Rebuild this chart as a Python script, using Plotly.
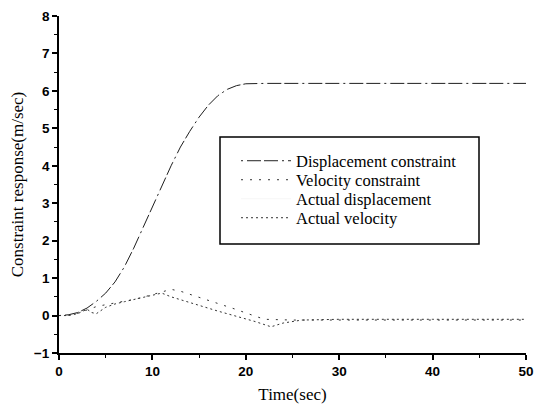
import plotly.graph_objects as go

# Displacement constraint (m)
t_disp = [0, 1, 2, 3, 4, 5, 6, 7, 8, 9, 10, 11, 12, 13, 14, 15, 16, 17, 18, 19, 20, 22, 25, 30, 35, 40, 45, 50]
disp_con = [0, 0.02, 0.08, 0.2, 0.38, 0.6, 0.9, 1.3, 1.8, 2.35, 2.9, 3.45, 4.0, 4.5, 4.92, 5.3, 5.62, 5.87, 6.04, 6.14, 6.19, 6.2, 6.2, 6.2, 6.2, 6.2, 6.2, 6.2]
disp_act = [0, 0.02, 0.08, 0.2, 0.38, 0.6, 0.9, 1.3, 1.8, 2.35, 2.9, 3.45, 4.0, 4.5, 4.92, 5.3, 5.62, 5.87, 6.04, 6.14, 6.19, 6.2, 6.2, 6.2, 6.2, 6.2, 6.2, 6.2]

# Velocity constraint
t_vel = [0, 1, 2, 3, 4, 5, 6, 7, 8, 9, 10, 11, 12, 13, 14, 15, 16, 17, 18, 19, 20, 21, 22, 25, 30, 40, 50]
vel_con = [0, 0.01, 0.06, 0.16, 0.24, 0.29, 0.33, 0.37, 0.43, 0.49, 0.56, 0.63, 0.7, 0.65, 0.57, 0.5, 0.42, 0.34, 0.25, 0.16, 0.07, -0.02, -0.1, -0.12, -0.12, -0.12, -0.12]

# Actual velocity
t_vact = [0, 1, 2, 3, 3.5, 4, 5, 6, 7, 8, 9, 10, 11, 12, 13, 14, 15, 16, 17, 18, 19, 20, 21, 22.7, 24, 26, 30, 40, 50]
vel_act = [0, 0.0, 0.05, 0.17, 0.08, 0.05, 0.22, 0.31, 0.37, 0.43, 0.49, 0.55, 0.6, 0.5, 0.42, 0.35, 0.28, 0.2, 0.12, 0.05, -0.02, -0.08, -0.16, -0.3, -0.2, -0.12, -0.1, -0.1, -0.1]

x_ticks = [0, 10, 20, 30, 40, 50]
y_ticks = [-1, 0, 1, 2, 3, 4, 5, 6, 7, 8]

fig = go.Figure()
fig.add_trace(go.Scatter(x=t_disp, y=disp_con, mode="lines", name="Displacement constraint", legend="legend",
                         line=dict(color="#222", width=1, dash="2px,4px,14px,3px,14px,4px")))
fig.add_trace(go.Scatter(x=t_vel, y=vel_con, mode="lines", name="Velocity constraint", legend="legend2",
                         line=dict(color="#333", width=1, dash="2px,7px")))
fig.add_trace(go.Scatter(x=t_disp, y=disp_act, mode="lines", name="Actual displacement", legend="legend3",
                         line=dict(color="rgba(0,0,0,0.04)", width=1)))
fig.add_trace(go.Scatter(x=t_vact, y=vel_act, mode="lines", name="Actual velocity", legend="legend4",
                         line=dict(color="#333", width=1, dash="2px,3px")))

axis_common = dict(
    showline=True, linecolor="black", linewidth=1.8,
    ticks="outside", ticklen=5, tickwidth=1.5, tickcolor="black",
    showgrid=False, zeroline=False, automargin=False,
    tickfont=dict(family="Liberation Sans", size=13.5, color="black", weight="bold"),
    minor=dict(ticks="outside", ticklen=3, tickwidth=1, tickcolor="black"),
)

fig.update_xaxes(range=[0, 50], tickvals=x_ticks, minor_dtick=5,
                 title=dict(text="Time(sec)", font=dict(family="Liberation Serif", size=17, color="black"), standoff=10),
                 **axis_common)
fig.update_yaxes(range=[-1, 8], tickvals=y_ticks, minor_dtick=0.5,
                 title=dict(text="Constraint response(m/sec)", font=dict(family="Liberation Serif", size=17, color="black"), standoff=6),
                 **axis_common)

fig.add_shape(type="rect", xref="paper", yref="paper",
              x0=(220 - 59) / 467, x1=(479 - 59) / 467,
              y0=(353 - 244) / 337, y1=(353 - 137) / 337,
              line=dict(color="black", width=1.5), fillcolor="rgba(0,0,0,0)")

legend_font = dict(family="Liberation Serif", size=16.5, color="black")
row_centers = [161, 180, 199, 218]
legend_keys = ["legend", "legend2", "legend3", "legend4"]
legends = {}
for key, yc in zip(legend_keys, row_centers):
    legends[key] = dict(x=(236 - 59) / 467, y=(353 - yc) / 337, xanchor="left", yanchor="middle",
                        bgcolor="rgba(0,0,0,0)", borderwidth=0, itemwidth=50,
                        font=legend_font)

fig.update_layout(
    width=546, height=407,
    margin=dict(l=59, r=20, t=16, b=54),
    plot_bgcolor="white", paper_bgcolor="white",
    showlegend=True,
    **legends,
)

fig.write_html("out.html")
